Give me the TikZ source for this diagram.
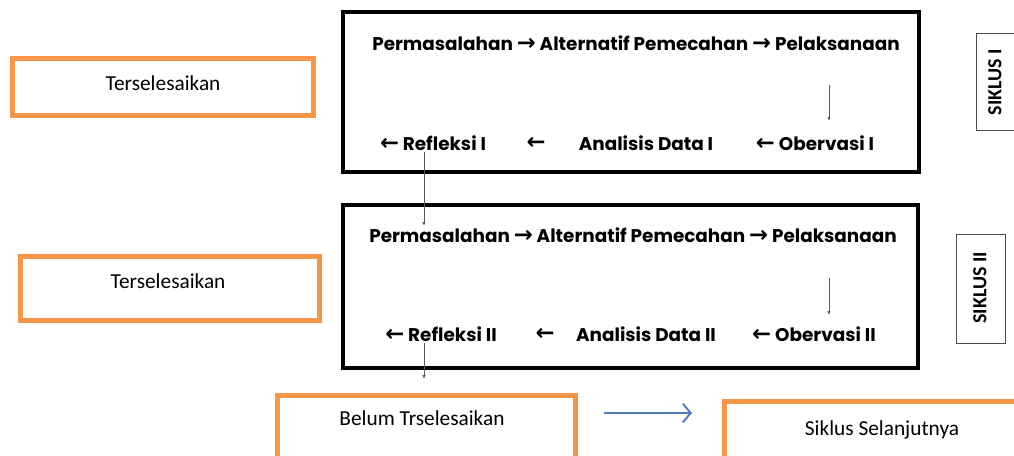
\documentclass[tikz,border=0pt]{standalone}
\usepackage{fontspec}
\setmainfont{Carlito}
\newfontfamily\comicfont{Poppins}
\newfontfamily\symfont{DejaVu Sans}
\newcommand{\rar}{{\symfont\bfseries\fontsize{17}{17}\selectfont →}}
\newcommand{\lar}{{\symfont\bfseries\fontsize{17}{17}\selectfont ←}}
\usetikzlibrary{arrows.meta}
\definecolor{orng}{HTML}{F79646}
\definecolor{blu}{HTML}{4A7EBB}
\tikzset{
  bbox/.style={draw=black, line width=3pt, inner sep=0pt},
  obox/.style={draw=orng, line width=3.75pt, inner sep=0pt},
  sbox/.style={draw=black!70, line width=0.75pt, inner sep=0pt},
  ctext/.style={font=\comicfont\bfseries\fontsize{13.8}{15}\selectfont, inner sep=1pt},
  otext/.style={font=\fontsize{16}{18}\selectfont, inner sep=1pt},
  stext/.style={font=\bfseries\fontsize{15}{17}\selectfont, rotate=90, inner sep=1pt},
  thinarr/.style={draw=black!65, line width=0.6pt, -{Latex[length=3pt,width=2.5pt]}},
  bluearr/.style={draw=blu, line width=1.4pt, -{Straight Barb[length=6pt,width=14pt,line width=1.4pt]}}
}
\begin{document}
\begin{tikzpicture}[x=0.75pt,y=-0.75pt]
\useasboundingbox (0,0) rectangle (1014,455);
\begin{scope}
\clip (0,0) rectangle (1014,455);
% black cycle boxes
\node[bbox, minimum width=576*0.75pt, minimum height=160*0.75pt] (c1) at (631,92) {};
\node[bbox, minimum width=575*0.75pt, minimum height=163*0.75pt] (c2) at (630.5,286.5) {};
% cycle 1 text
\node[ctext] (p1) at (636,43) {Permasalahan \rar{} Alternatif Pemecahan \rar{} Pelaksanaan};
\node[ctext] (r1) at (433,143) {\lar{} Refleksi I};
\node[ctext] (l1) at (536,143) {\lar};
\node[ctext] (a1) at (646,143) {Analisis Data I};
\node[ctext] (o1) at (815,143) {\lar{} Obervasi I};
% cycle 2 text
\node[ctext] (p2) at (633,235) {Permasalahan \rar{} Alternatif Pemecahan \rar{} Pelaksanaan};
\node[ctext] (r2) at (441,334) {\lar{} Refleksi II};
\node[ctext] (l2) at (545,334) {\lar};
\node[ctext] (a2) at (646,334) {Analisis Data II};
\node[ctext] (o2) at (814,334) {\lar{} Obervasi II};
% orange boxes
\node[obox, minimum width=301*0.75pt, minimum height=57*0.75pt] (t1) at (163,87) {};
\node[otext] (t1t) at (163,83) {Terselesaikan};
\node[obox, minimum width=299*0.75pt, minimum height=64*0.75pt] (t2) at (170,288.5) {};
\node[otext] (t2t) at (168,281) {Terselesaikan};
\node[obox, minimum width=298*0.75pt, minimum height=80*0.75pt] (b3) at (426.5,435) {};
\node[otext] (b3t) at (422,418) {Belum Trselesaikan};
\node[obox, minimum width=305*0.75pt, minimum height=73*0.75pt] (s4) at (877,438) {};
\node[otext] (s4t) at (882,430) {Siklus Selanjutnya};
\end{scope}
% siklus labels
\node[sbox, minimum width=40*0.75pt, minimum height=97*0.75pt] (k1) at (996,82) {};
\node[stext] (k1t) at (995,82) {SIKLUS I};
\node[sbox, minimum width=49*0.75pt, minimum height=109*0.75pt] (k2) at (980.5,288.5) {};
\node[stext] (k2t) at (980,288) {SIKLUS II};
% connectors
\coordinate (d1a) at (829,85);
\coordinate (d1b) at (829,121);
\coordinate (d2a) at (829,278);
\coordinate (d2b) at (829,315);
\draw[thinarr] (d1a) -- (d1b);
\draw[thinarr] (d2a) -- (d2b);
\draw[thinarr] ([xshift=-6.75pt]r1.south) -- ([xshift=-6.75pt]r1.south |- p2.north);
\draw[thinarr] ([xshift=-12.75pt]r2.south) -- ([xshift=-12.75pt, yshift=10pt]r2.south |- b3.north);
\draw[bluearr] ([xshift=19.5pt, yshift=3.75pt]b3.east |- b3t.center) -- ([xshift=-22.5pt, yshift=3.75pt]s4.west |- b3t.center);
\end{tikzpicture}
\end{document}
